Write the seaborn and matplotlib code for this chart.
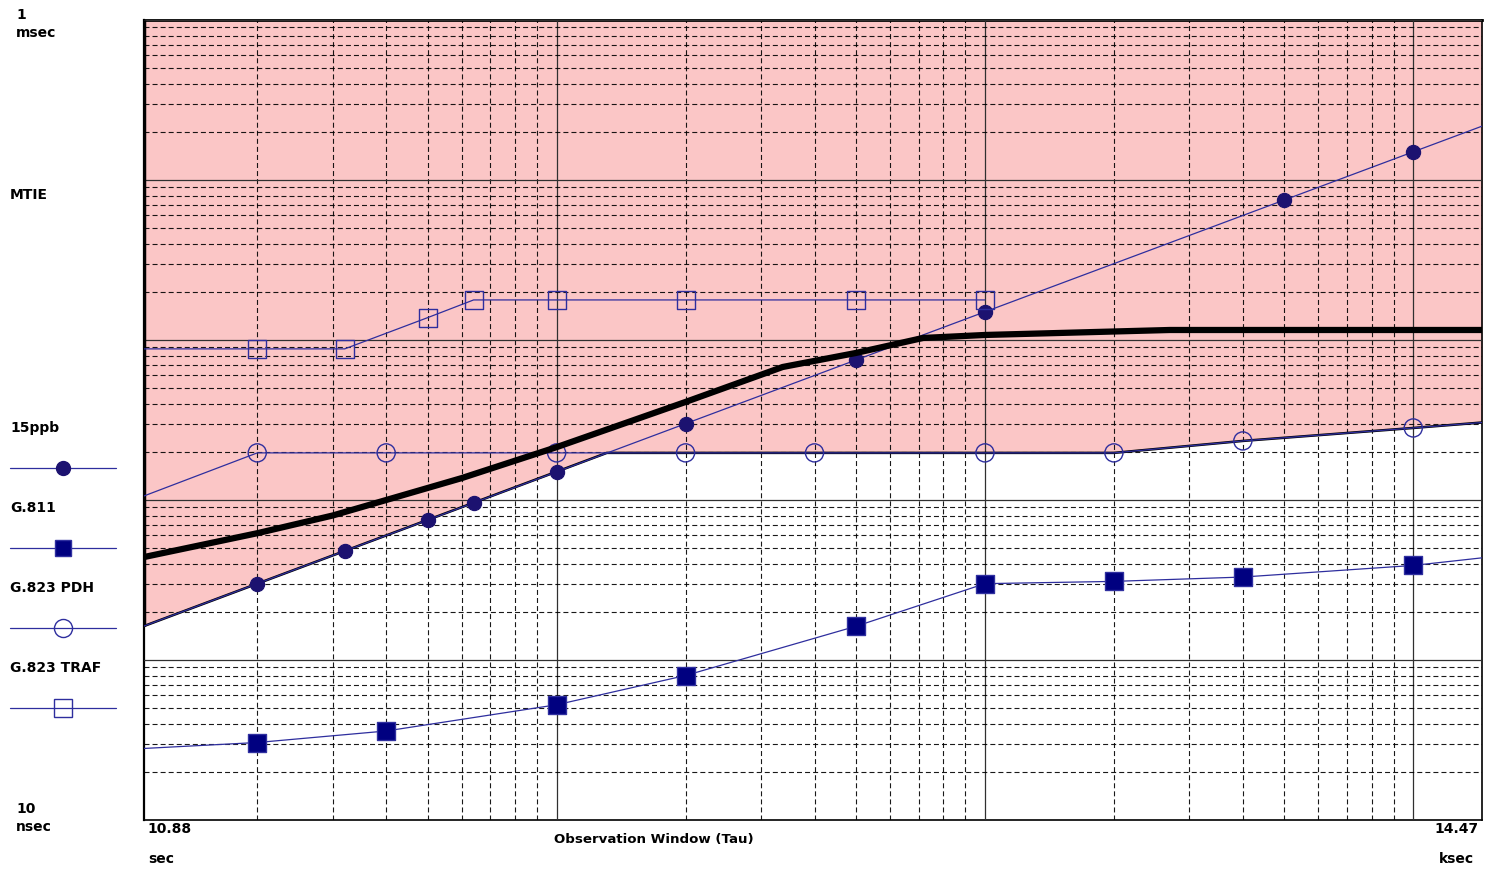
import numpy as np
import pandas as pd
import matplotlib
matplotlib.use("Agg")
import matplotlib.pyplot as plt
from matplotlib.ticker import LogLocator, NullFormatter
import seaborn as sns

# Observation window (tau, seconds) and MTIE values (microseconds)
tau_15ppb = [10.88, 20, 32, 50, 64, 100, 200, 500, 1000, 5000, 10000, 14470]
mtie_15ppb = [0.163, 0.30, 0.48, 0.75, 0.96, 1.5, 3.0, 7.5, 15.0, 75.0, 150.0, 217.0]

tau_g811 = [10.88, 20, 40, 100, 200, 500, 1000, 2000, 4000, 10000, 14470]
mtie_g811 = [0.028, 0.0305, 0.036, 0.0525, 0.080, 0.1625, 0.30, 0.31, 0.33, 0.39, 0.435]

tau_pdh = [10.88, 20, 40, 100, 200, 400, 1000, 2000, 4000, 10000, 14470]
mtie_pdh = [1.06, 1.97, 1.97, 1.97, 1.97, 1.97, 1.97, 1.97, 2.34, 2.82, 3.05]

tau_traf = [10.88, 20, 32, 50, 64, 100, 200, 500, 1000]
mtie_traf = [8.8, 8.8, 8.8, 13.8, 17.8, 17.8, 17.8, 17.8, 17.8]

# mask limit (lower edge of the shaded region)
tau_mask = [10.88, 131, 2000, 4000, 10000, 14470]
mtie_mask = [0.163, 1.97, 1.97, 2.34, 2.82, 3.05]

# measured MTIE curve
tau_meas = [10.88, 20, 30, 40, 60, 100, 200, 337, 500, 717, 1000, 2700, 14470]
mtie_meas = [0.44, 0.62, 0.80, 1.0, 1.37, 2.14, 4.10, 6.78, 8.3, 10.3, 10.75, 11.55, 11.55]

legend_names = ["15ppb", "G.811", "G.823 PDH", "G.823 TRAF"]

line_c = "#2e2e9e"
circ_c = "#1c1270"
sq_c = "#000080"
fill_c = "#fbc6c6"

sns.set_style("white")
plt.rcParams["font.family"] = ["DejaVu Sans"]
plt.rcParams["lines.scale_dashes"] = False
plt.rcParams["text.color"] = "black"

fig = plt.figure(figsize=(14.85, 8.69), dpi=100)

# overlay for labels / legend in pixel coordinates
ov = fig.add_axes([0, 0, 1, 1])
ov.set_xlim(0, 1485)
ov.set_ylim(869, 0)
ov.axis("off")

ax = fig.add_axes([144 / 1485, 49 / 869, 1338 / 1485, 800 / 869])
ax.set_xscale("log")
ax.set_yscale("log")
ax.set_xlim(10.88, 14470)
ax.set_ylim(0.01, 1000)

# shaded failure region
ax.fill_between(tau_mask, mtie_mask, 1000, color=fill_c, lw=0, zorder=1)

# grid
for axis in (ax.xaxis, ax.yaxis):
    axis.set_major_locator(LogLocator(base=10, numticks=20))
    axis.set_minor_locator(LogLocator(base=10, subs=np.arange(2, 10), numticks=50))
    axis.set_minor_formatter(NullFormatter())
ax.set_axisbelow(False)
ax.grid(True, which="major", color="#303030", lw=0.9, ls="-")
ax.grid(True, which="minor", color="black", lw=0.8, ls=(0, (3.6, 2.2)), alpha=0.9)
ax.tick_params(which="both", length=0, labelbottom=False, labelleft=False)

# mask boundary
sns.lineplot(x=tau_mask, y=mtie_mask, color="black", lw=1.8, ax=ax,
             estimator=None, sort=False, zorder=3)
ax.vlines(tau_mask[0], mtie_mask[0], 1000, color="black", lw=2.5, zorder=3)

# limit lines
series = [
    (tau_15ppb, mtie_15ppb, slice(1, -1), dict(marker="o", s=105, color=circ_c, edgecolor=circ_c)),
    (tau_g811, mtie_g811, slice(1, -1), dict(marker="s", s=150, color=sq_c, edgecolor="#3030a0")),
    (tau_pdh, mtie_pdh, slice(1, -1), dict(marker="o", s=170, facecolor="none", edgecolor=line_c, linewidth=1)),
    (tau_traf, mtie_traf, slice(1, None), dict(marker="s", s=170, facecolor="none", edgecolor=line_c, linewidth=1)),
]
for tx, my, pts, mk in series:
    sns.lineplot(x=tx, y=my, color=line_c, lw=0.9, ax=ax, estimator=None, sort=False, zorder=4)
    sns.scatterplot(x=tx[pts], y=my[pts], ax=ax, zorder=5, **mk)

# measured curve
sns.lineplot(x=tau_meas, y=mtie_meas, color="black", lw=4.5, ax=ax,
             estimator=None, sort=False, zorder=6, solid_joinstyle="round")

for side, w in [("left", 1.6), ("bottom", 1.2), ("top", 2.0), ("right", 1.2)]:
    ax.spines[side].set_visible(True)
    ax.spines[side].set_color("black")
    ax.spines[side].set_linewidth(w)

# side labels
tk = dict(fontsize=10, fontweight="bold", color="black", va="center", ha="left")
ov.text(16, 15, "1", **tk)
ov.text(16, 33, "msec", **tk)
ov.text(10, 195, "MTIE", **tk)
ov.text(16, 809, "10", **tk)
ov.text(16, 827, "nsec", **tk)

leg_styles = [
    dict(marker="o", ms=10, mfc=circ_c, mec=circ_c),
    dict(marker="s", ms=12, mfc=sq_c, mec="#3030a0"),
    dict(marker="o", ms=13, mfc="none", mec=line_c, mew=1),
    dict(marker="s", ms=12.5, mfc="none", mec=line_c, mew=1),
]
for i, (name, st) in enumerate(zip(legend_names, leg_styles)):
    y0 = 428 + 80 * i
    ov.text(10, y0, name, **tk)
    ov.plot([10, 116], [y0 + 40, y0 + 40], color=line_c, lw=0.9)
    ov.plot([63], [y0 + 40], **st)

# axis labels
ov.text(147, 829, "10.88", **tk)
ov.text(148, 859, "sec", **tk)
ov.text(654, 839, "Observation Window (Tau)", fontsize=9.6, fontweight="bold",
        color="black", va="center", ha="center")
ov.text(1479, 829, "14.47", fontsize=10, fontweight="bold", color="black", va="center", ha="right")
ov.text(1474, 859, "ksec", fontsize=10, fontweight="bold", color="black", va="center", ha="right")

fig.savefig("out.png", dpi=100)
